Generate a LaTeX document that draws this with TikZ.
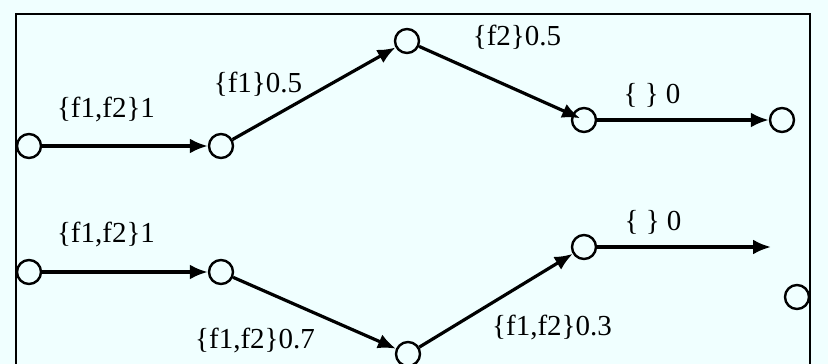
\documentclass[tikz,border=0pt]{standalone}
\usepackage{fontspec}
\setmainfont{Liberation Serif}
\usepackage{xcolor}
\usetikzlibrary{arrows.meta,positioning}
\definecolor{bgazure}{RGB}{240,255,255}

\begin{document}
\begin{tikzpicture}[x=1pt, y=-1pt,
    state/.style={circle, draw=black, line width=2.4pt, fill=bgazure,
        minimum size=24pt, inner sep=0pt},
    line/.style={draw, -{Latex[length=18pt,width=15pt]}, line width=3.2pt, black},
    lbl/.style={font=\fontsize{29}{32}\selectfont, inner sep=0pt}
]
    \useasboundingbox[fill=bgazure] (0,0) rectangle (828,364);
    \draw[line width=2.4pt] (16,364) -- (16,14) -- (810,14) -- (810,364);

    % upper path
    \node[state] (a1) at (29,146) {};
    \node[state] (a2) at (221,146) {};
    \node[state] (a3) at (407,41) {};
    \node[state] (a4) at (584,120) {};
    \node[state] (a5) at (782,120) {};

    % lower path
    \node[state] (b1) at (29,272) {};
    \node[state] (b2) at (221,272) {};
    \node[state] (b3) at (408,354) {};
    \node[state] (b4) at (584,247) {};
    \node[state] (b5) at (797,297) {};
    \coordinate (bend) at (771,247);

    \node[lbl] (la12) at (106,110) {\{f1,f2\}1};
    \node[lbl] (la23) at (258,84) {\{f1\}0.5};
    \node[lbl] (la34) at (517,37) {\{f2\}0.5};
    \node[lbl] (la45) at (652,95) {\{ \} 0};
    \node[lbl] (lb12) at (106,235) {\{f1,f2\}1};
    \node[lbl] (lb23) at (255,341) {\{f1,f2\}0.7};
    \node[lbl] (lb34) at (552,328) {\{f1,f2\}0.3};
    \node[lbl] (lb45) at (653,222) {\{ \} 0};

    \path[line] (a1) -- (a2);
    \path[line] (a2) -- (a3);
    \path[line, shorten >=-9pt] (a3) -- (a4);
    \path[line] (a4) -- (a5);
    \path[line] (b1) -- (b2);
    \path[line] (b2) -- (b3);
    \path[line] (b3) -- (b4);
    \path[line] (b4) -- (bend);
\end{tikzpicture}
\end{document}
